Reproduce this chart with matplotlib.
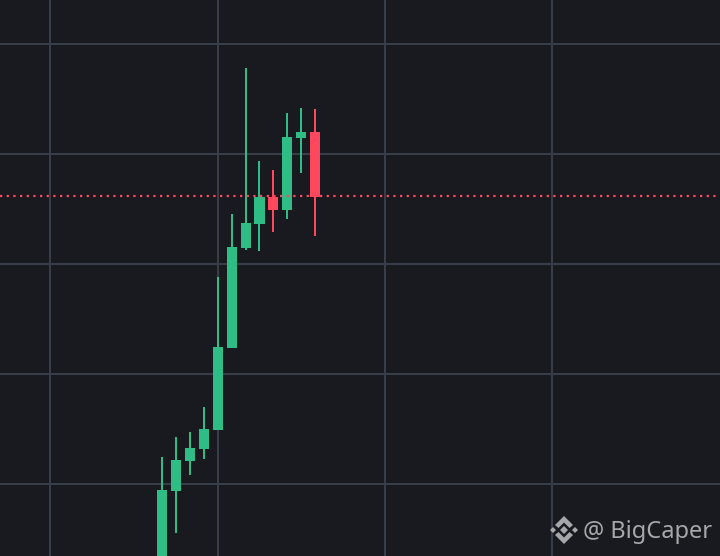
import matplotlib
matplotlib.use('Agg')
import matplotlib.pyplot as plt
from matplotlib.patches import Polygon

idx = [0, 1, 2, 3, 4, 5, 6, 7, 8, 9, 10, 11]
opens = [2.18, 9.36, 12.09, 13.18, 14.91, 22.36, 31.45, 33.64, 36.09, 34.91, 41.45, 42.0]
closes = [9.45, 12.18, 13.27, 15.0, 22.45, 31.55, 33.73, 36.09, 34.91, 41.55, 42.0, 36.09]
highs = [12.45, 14.27, 14.73, 17.0, 28.82, 34.55, 47.82, 39.36, 38.55, 43.73, 44.18, 44.09]
lows = [1.5, 5.55, 10.82, 12.27, 14.91, 22.36, 31.27, 31.18, 32.91, 34.09, 38.27, 32.55]
last_price = 36.18

y_ticks = [10, 20, 30, 40, 50]
x_ticks = [-8, 4, 16, 28]

bg = '#181A20'
grid = '#383D4A'
green = '#2EBD85'
red = '#FF475D'

fig = plt.figure(figsize=(7.2, 5.56), dpi=100, facecolor=bg)
ax = fig.add_axes([0, 0, 1, 1], facecolor=bg)
ax.set_xlim(-11.615, 40.035)
ax.set_ylim(3.4545, 54)
ax.set_xticks(x_ticks)
ax.set_yticks(y_ticks)
ax.grid(True, color=grid, linewidth=1.44)
ax.set_axisbelow(True)
ax.tick_params(length=0, labelbottom=False, labelleft=False)
for s in ax.spines.values():
    s.set_visible(False)

for i, o, c, h, l in zip(idx, opens, closes, highs, lows):
    col = green if c >= o else red
    ax.vlines(i, l, h, color=col, linewidth=1.44, zorder=3)
    ax.bar(i, abs(c - o), bottom=min(o, c), width=0.72, color=col, linewidth=0, zorder=3)

ax.axhline(last_price, color=red, linewidth=1.6, linestyle=(0, (1, 2)), zorder=4)

# watermark, drawn on a pixel sized overlay
over = fig.add_axes([0, 0, 1, 1])
over.set_xlim(0, 720)
over.set_ylim(556, 0)
over.axis('off')
logo = '#A6A7A9'
cx, cy = 564, 530
shapes = [
    [(-14, 0), (-11, -3), (-8, 0), (-11, 3)],
    [(14, 0), (11, -3), (8, 0), (11, 3)],
    [(0, -4), (4, 0), (0, 4), (-4, 0)],
    [(0, -14), (9, -5), (5.5, -2), (0, -7.5), (-5.5, -2), (-9, -5)],
    [(0, 14), (9, 5), (5.5, 2), (0, 7.5), (-5.5, 2), (-9, 5)],
]
for pts in shapes:
    over.add_patch(Polygon([(cx + a, cy + b) for a, b in pts], closed=True, color=logo, linewidth=0))
over.text(583, 531.5, '@ BigCaper', color=logo, fontsize=17, family='Noto Sans', va='center', ha='left')

fig.savefig('out.png', dpi=100, facecolor=bg)
